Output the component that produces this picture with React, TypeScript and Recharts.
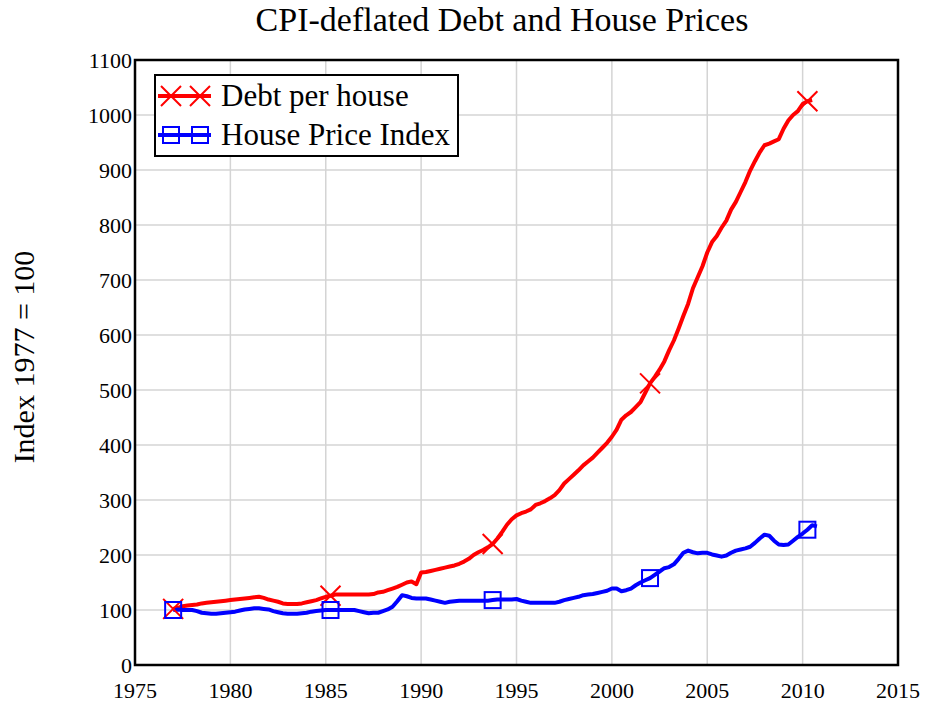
import { CartesianGrid, Line, LineChart, ReferenceArea, XAxis, YAxis } from "recharts"

const START_YEAR = 1977

// quarterly readings, 1977 Q1 .. 2010 Q4
const DEBT = [
    102, 104, 107, 108,
    109, 110, 112, 113,
    114, 115, 116, 117,
    118, 119, 120, 121,
    122, 123, 124, 122,
    119, 117, 115, 112,
    111, 111, 111, 112,
    114, 116, 118, 121,
    124, 126, 128, 128,
    128, 128, 128, 128,
    128, 128, 129, 132,
    133, 136, 139, 142,
    146, 150, 152, 147,
    168, 169, 171, 173,
    175, 177, 179, 181,
    184, 188, 193, 200,
    205, 209, 214, 220,
    230, 242, 255, 265,
    272, 276, 279, 283,
    291, 294, 298, 303,
    309, 318, 330, 338,
    346, 354, 363, 370,
    377, 386, 395, 404,
    415, 428, 446, 454,
    460, 469, 478, 495,
    512, 524, 537, 552,
    572, 590, 612, 635,
    657, 685, 705, 725,
    750, 769, 780, 795,
    808, 828, 842, 860,
    878, 899, 916, 932,
    945, 948, 952, 956,
    975, 990, 1000, 1007,
    1020, 1025, 1027, null,
]

const HPI = [
    100, 101, 100, 100,
    100, 98, 95, 94,
    93, 93, 94, 95,
    96, 97, 99, 101,
    102, 103, 103, 102,
    101, 98, 96, 94,
    93, 93, 93, 94,
    95, 97, 98, 99,
    100, 100, 100, 100,
    100, 100, 100, 98,
    96, 94, 95, 95,
    98, 101, 106, 116,
    127, 125, 122, 121,
    121, 121, 119, 117,
    115, 113, 115, 116,
    117, 117, 117, 117,
    117, 117, 117, 118,
    119, 119, 119, 119,
    120, 117, 115, 113,
    113, 113, 113, 113,
    113, 115, 118, 120,
    122, 124, 127, 128,
    129, 131, 133, 135,
    139, 139, 134, 136,
    139, 145, 150, 154,
    158, 164, 170, 176,
    178, 183, 193, 204,
    208, 205, 203, 204,
    204, 201, 199, 197,
    199, 204, 208, 210,
    212, 215, 222, 230,
    237, 235, 226, 219,
    218, 219, 226, 233,
    239, 246, 254, 252,
]

const MARKER_YEARS = [1977, 1985.25, 1993.75, 2002, 2010.25]
const X_TICKS = [1975, 1980, 1985, 1990, 1995, 2000, 2005, 2010, 2015]
const Y_TICKS = [0, 100, 200, 300, 400, 500, 600, 700, 800, 900, 1000, 1100]

const SERIES = [
    { key: "debt", name: "Debt per house", color: "#ff0000", marker: "cross" },
    { key: "hpi", name: "House Price Index", color: "#0000ff", marker: "square" },
]

const data = DEBT.map((d, i) => ({ year: START_YEAR + i / 4, debt: d, hpi: HPI[i] }))

const FONT = "'Liberation Serif', 'Times New Roman', serif"

function Marker({ type, cx, cy, color }: { type: string; cx: number; cy: number; color: string }) {
    if (type === "cross") {
        const r = 10
        return (
            <path
                d={`M${cx - r},${cy - r}L${cx + r},${cy + r}M${cx - r},${cy + r}L${cx + r},${cy - r}`}
                stroke={color}
                strokeWidth={2}
                fill="none"
            />
        )
    }
    return <rect x={cx - 8} y={cy - 8} width={16} height={16} stroke={color} strokeWidth={2} fill="none" />
}

const makeDot = (type: string, color: string) => (props: any) => {
    const { cx, cy, payload, index } = props
    if (payload == null || !MARKER_YEARS.includes(payload.year) || cy == null) return <g key={index} />
    return (
        <g key={index}>
            <Marker type={type} cx={cx} cy={cy} color={color} />
        </g>
    )
}

function ChartLegend() {
    return (
        <div
            style={{
                position: "absolute",
                left: 154,
                top: 74,
                boxSizing: "border-box",
                width: 305,
                height: 83,
                border: "2px solid #000",
                background: "#fff",
                fontFamily: FONT,
                fontSize: 31,
                color: "#000",
            }}
        >
            {SERIES.map((s, i) => (
                <div key={s.key} style={{ position: "absolute", left: 0, top: 2 + i * 39, height: 36, display: "flex", alignItems: "center" }}>
                    <svg width={60} height={36} style={{ display: "block" }}>
                        <line x1={2} y1={18} x2={55} y2={18} stroke={s.color} strokeWidth={4} />
                        <Marker type={s.marker} cx={15} cy={18} color={s.color} />
                        <Marker type={s.marker} cx={44} cy={18} color={s.color} />
                    </svg>
                    <span style={{ marginLeft: 5, lineHeight: "36px", whiteSpace: "nowrap" }}>{s.name}</span>
                </div>
            ))}
        </div>
    )
}

export default function App() {
    return (
        <div style={{ position: "absolute", left: 0, top: 0, width: 930, height: 702, background: "#fff" }}>
            <LineChart width={930} height={702} data={data} margin={{ top: 60, right: 32, left: 0, bottom: 0 }}>
                <CartesianGrid stroke="#d4d4d4" strokeWidth={1.5} />
                <XAxis
                    dataKey="year"
                    type="number"
                    domain={[1975, 2015]}
                    ticks={X_TICKS}
                    height={37}
                    axisLine={false}
                    tickLine={false}
                    tickSize={0}
                    tickMargin={17}
                    tick={{ fill: "#000", fontSize: 22, fontFamily: FONT }}
                    allowDataOverflow
                />
                <YAxis
                    type="number"
                    domain={[0, 1100]}
                    ticks={Y_TICKS}
                    width={135}
                    axisLine={false}
                    tickLine={false}
                    tickSize={0}
                    tickMargin={3}
                    tick={{ fill: "#000", fontSize: 22, fontFamily: FONT }}
                    interval={0}
                />
                <ReferenceArea x1={1975} x2={2015} y1={0} y2={1100} fill="none" stroke="#000" strokeWidth={2.5} ifOverflow="visible" />
                {SERIES.map((s) => (
                    <Line
                        key={s.key}
                        type="linear"
                        dataKey={s.key}
                        name={s.name}
                        stroke={s.color}
                        strokeWidth={4}
                        strokeLinejoin="round"
                        dot={makeDot(s.marker, s.color)}
                        activeDot={false}
                        isAnimationActive={false}
                    />
                ))}
            </LineChart>
            <div
                style={{
                    position: "absolute",
                    left: 0,
                    width: 1004,
                    top: 0,
                    textAlign: "center",
                    fontFamily: FONT,
                    fontSize: 34,
                    lineHeight: "40px",
                    color: "#000",
                }}
            >
                CPI-deflated Debt and House Prices
            </div>
            <div
                style={{
                    position: "absolute",
                    left: 24,
                    top: 357,
                    transform: "translate(-50%, -50%) rotate(-90deg)",
                    fontFamily: FONT,
                    fontSize: 30,
                    whiteSpace: "nowrap",
                    color: "#000",
                }}
            >
                Index 1977 = 100
            </div>
            <ChartLegend />
        </div>
    )
}
